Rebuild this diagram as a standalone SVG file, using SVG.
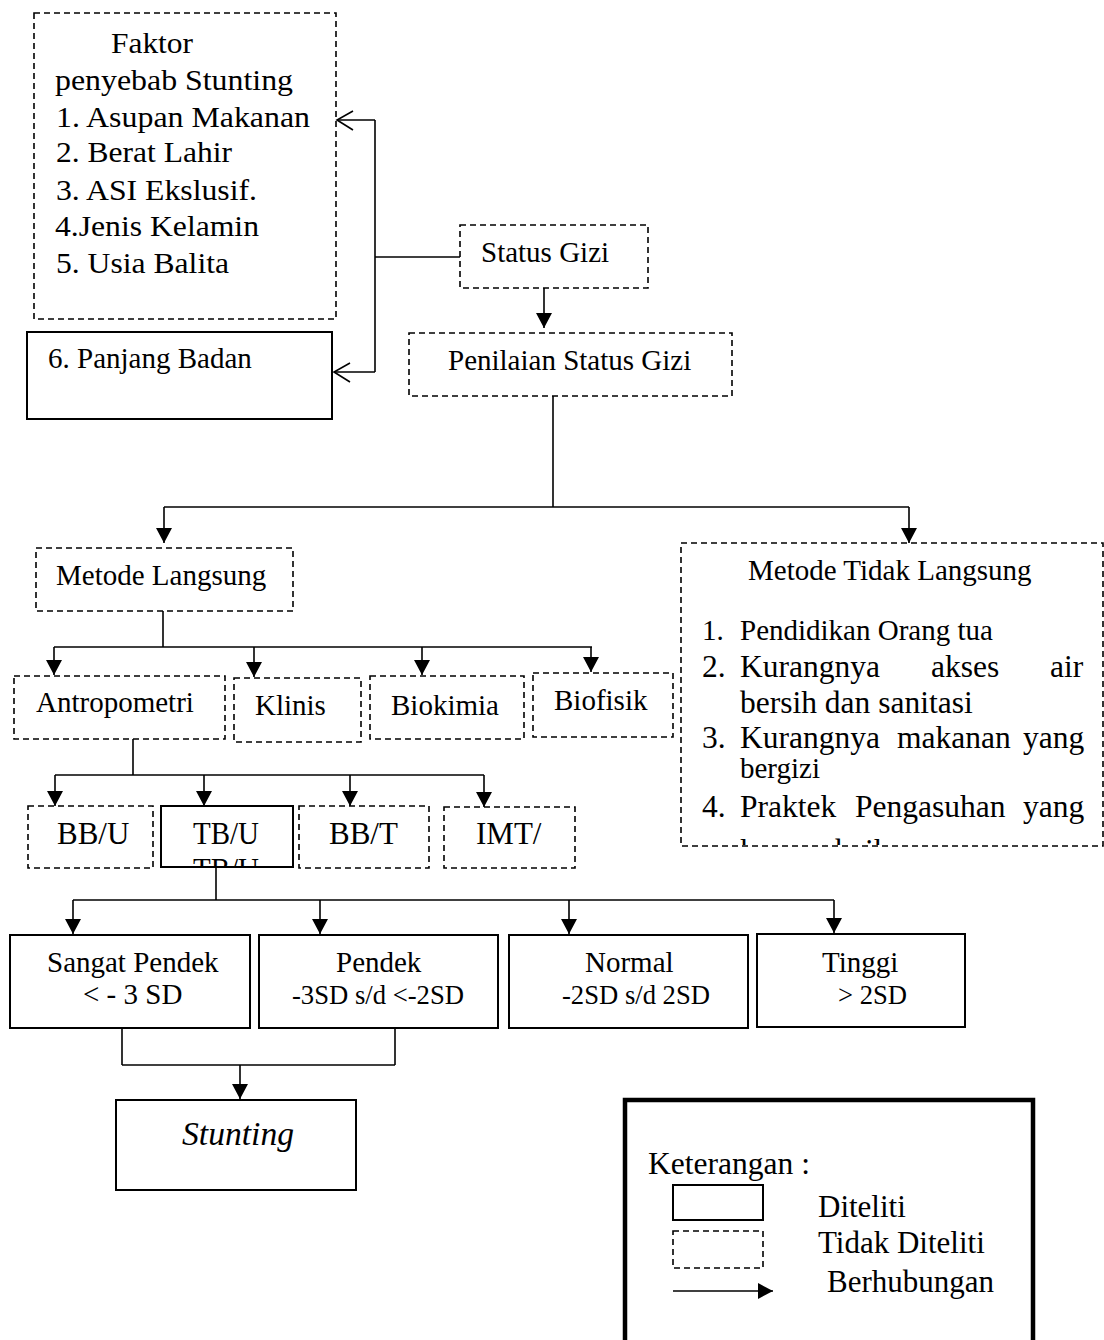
<svg xmlns="http://www.w3.org/2000/svg" width="1104" height="1340" viewBox="0 0 1104 1340">
<style>
  text { font-family: "Liberation Serif", "Times New Roman", serif; fill: #000; }
  .t29 { font-size: 29px; }
  .t30 { font-size: 30px; }
  .t31 { font-size: 31px; }
  .t32 { font-size: 31.5px; }
  .t26 { font-size: 26.5px; }
  .dash { fill: #fff; stroke: #000; stroke-width: 1.6; stroke-dasharray: 6 4; }
  .solid { fill: #fff; stroke: #000; stroke-width: 2; }
  .conn { fill: none; stroke: #000; stroke-width: 1.6; }
</style>
<defs>
  <marker id="arr" markerUnits="userSpaceOnUse" markerWidth="15" markerHeight="16" refX="15" refY="8" orient="auto" viewBox="0 0 15 16">
    <path d="M0,0 L15,8 L0,16 Z" fill="#000"/>
  </marker>
  <clipPath id="clipTB"><rect x="162" y="807" width="130" height="59"/></clipPath>
  <clipPath id="clipMTL"><rect x="682" y="544" width="420" height="301"/></clipPath>
</defs>
<rect width="1104" height="1340" fill="#fff"/>

<g id="faktor">
  <rect class="dash" x="34" y="13" width="302" height="306"/>
  <text class="t30" x="111" y="53" textLength="82" lengthAdjust="spacingAndGlyphs">Faktor</text>
  <text class="t30" x="55" y="90" textLength="238" lengthAdjust="spacingAndGlyphs">penyebab Stunting</text>
  <text class="t30" x="56" y="127" textLength="254" lengthAdjust="spacingAndGlyphs">1. Asupan Makanan</text>
  <text class="t30" x="56" y="162" textLength="176" lengthAdjust="spacingAndGlyphs">2. Berat Lahir</text>
  <text class="t30" x="56" y="200" textLength="201" lengthAdjust="spacingAndGlyphs">3. ASI Ekslusif.</text>
  <text class="t30" x="55" y="236" textLength="204" lengthAdjust="spacingAndGlyphs">4.Jenis Kelamin</text>
  <text class="t30" x="56" y="273" textLength="173" lengthAdjust="spacingAndGlyphs">5. Usia Balita</text>
</g>

<g id="panjang-badan">
  <rect class="solid" x="27" y="332" width="305" height="87"/>
  <text class="t29" x="48" y="368">6. Panjang Badan</text>
</g>

<g id="status-gizi">
  <rect class="dash" x="460" y="225" width="188" height="63"/>
  <text class="t29" x="481" y="262">Status Gizi</text>
</g>

<g id="penilaian">
  <rect class="dash" x="409" y="333" width="323" height="63"/>
  <text class="t29" x="448" y="370">Penilaian Status Gizi</text>
</g>

<g id="metode-langsung">
  <rect class="dash" x="36" y="548" width="257" height="63"/>
  <text class="t29" x="56" y="585">Metode Langsung</text>
</g>

<g id="metode-tidak-langsung">
  <rect class="dash" x="681" y="543" width="422" height="303"/>
  <text class="t29" x="748" y="580">Metode Tidak Langsung</text>
  <text class="t29" x="702" y="640">1.</text>
  <text class="t29" x="740" y="640">Pendidikan Orang tua</text>
  <text class="t32" x="702" y="677">2.</text>
  <text class="t32" x="740" y="677">Kurangnya</text>
  <text class="t32" x="931" y="677">akses</text>
  <text class="t32" x="1050" y="677">air</text>
  <text class="t32" x="740" y="713">bersih dan sanitasi</text>
  <text class="t32" x="702" y="748">3.</text>
  <text class="t32" x="740" y="748">Kurangnya</text>
  <text class="t32" x="897" y="748">makanan</text>
  <text class="t32" x="1023" y="748">yang</text>
  <text class="t29" x="740" y="778">bergizi</text>
  <text class="t32" x="702" y="817">4.</text>
  <text class="t32" x="740" y="817">Praktek</text>
  <text class="t32" x="855" y="817">Pengasuhan</text>
  <text class="t32" x="1023" y="817">yang</text>
  <text class="t32" x="740" y="861" clip-path="url(#clipMTL)">kurang baik</text>
</g>

<g id="antropometri">
  <rect class="dash" x="14" y="676" width="211" height="63"/>
  <text class="t29" x="36" y="712">Antropometri</text>
</g>
<g id="klinis">
  <rect class="dash" x="234" y="678" width="127" height="64"/>
  <text class="t29" x="255" y="715">Klinis</text>
</g>
<g id="biokimia">
  <rect class="dash" x="370" y="676" width="154" height="63"/>
  <text class="t29" x="391" y="715">Biokimia</text>
</g>
<g id="biofisik">
  <rect class="dash" x="533" y="673" width="140" height="64"/>
  <text class="t29" x="554" y="710">Biofisik</text>
</g>

<g id="bbu">
  <rect class="dash" x="28" y="806" width="125" height="62"/>
  <text class="t31" x="57" y="844">BB/U</text>
</g>
<g id="tbu">
  <rect class="solid" x="161" y="806" width="132" height="61" stroke-width="2.4"/>
  <text class="t31" x="193" y="844" textLength="66" lengthAdjust="spacingAndGlyphs">TB/U</text>
  <text class="t31" x="193" y="880" textLength="66" lengthAdjust="spacingAndGlyphs" clip-path="url(#clipTB)">TB/U</text>
</g>
<g id="bbt">
  <rect class="dash" x="299" y="806" width="130" height="62"/>
  <text class="t31" x="329" y="844">BB/T</text>
</g>
<g id="imt">
  <rect class="dash" x="444" y="807" width="131" height="61"/>
  <text class="t31" x="476" y="844">IMT/</text>
</g>

<g id="sangat-pendek">
  <rect class="solid" x="10" y="935" width="240" height="93"/>
  <text class="t29" x="47" y="972">Sangat Pendek</text>
  <text class="t29" x="83" y="1004">&lt; - 3 SD</text>
</g>
<g id="pendek">
  <rect class="solid" x="259" y="935" width="239" height="93"/>
  <text class="t29" x="336" y="972">Pendek</text>
  <text class="t26" x="292" y="1004" textLength="172" lengthAdjust="spacingAndGlyphs">-3SD s/d &lt;-2SD</text>
</g>
<g id="normal">
  <rect class="solid" x="509" y="935" width="239" height="93"/>
  <text class="t29" x="585" y="972">Normal</text>
  <text class="t26" x="562" y="1004" textLength="148" lengthAdjust="spacingAndGlyphs">-2SD s/d 2SD</text>
</g>
<g id="tinggi">
  <rect class="solid" x="757" y="934" width="208" height="93"/>
  <text class="t29" x="822" y="972">Tinggi</text>
  <text class="t26" x="838" y="1004" textLength="69" lengthAdjust="spacingAndGlyphs">&gt; 2SD</text>
</g>

<g id="stunting">
  <rect class="solid" x="116" y="1100" width="240" height="90"/>
  <text x="182" y="1145" font-size="34" font-style="italic" textLength="112" lengthAdjust="spacingAndGlyphs">Stunting</text>
</g>

<g id="legend">
  <rect x="625" y="1100" width="408" height="260" fill="#fff" stroke="#000" stroke-width="4.5"/>
  <text class="t31" x="648" y="1174" textLength="162" lengthAdjust="spacingAndGlyphs">Keterangan :</text>
  <rect class="solid" x="673" y="1185" width="90" height="35"/>
  <text class="t31" x="818" y="1217">Diteliti</text>
  <rect class="dash" x="673" y="1231" width="90" height="37"/>
  <text class="t31" x="818" y="1253">Tidak Diteliti</text>
  <path class="conn" d="M673,1291 L773,1291" marker-end="url(#arr)"/>
  <text class="t31" x="827" y="1292">Berhubungan</text>
</g>

<g id="connectors">
  <path class="conn" d="M460,257 L375,257"/>
  <path class="conn" d="M375,120 L375,372"/>
  <path class="conn" d="M375,120 L337,120"/>
  <path class="conn" d="M375,372 L334,372"/>
  <path class="conn" d="M353,111 L337,120 L353,130"/>
  <path class="conn" d="M350,363 L334,372 L350,382"/>

  <path class="conn" d="M544,288 L544,328" marker-end="url(#arr)"/>

  <path class="conn" d="M553,396 L553,507"/>
  <path class="conn" d="M164,507 L909,507"/>
  <path class="conn" d="M164,507 L164,543" marker-end="url(#arr)"/>
  <path class="conn" d="M909,507 L909,543" marker-end="url(#arr)"/>

  <path class="conn" d="M163,611 L163,647"/>
  <path class="conn" d="M54,647 L592,647"/>
  <path class="conn" d="M54,647 L54,675" marker-end="url(#arr)"/>
  <path class="conn" d="M254,647 L254,677" marker-end="url(#arr)"/>
  <path class="conn" d="M422,647 L422,675" marker-end="url(#arr)"/>
  <path class="conn" d="M591,647 L591,672" marker-end="url(#arr)"/>

  <path class="conn" d="M133,739 L133,775"/>
  <path class="conn" d="M55,775 L484,775"/>
  <path class="conn" d="M55,775 L55,806" marker-end="url(#arr)"/>
  <path class="conn" d="M204,775 L204,806" marker-end="url(#arr)"/>
  <path class="conn" d="M350,775 L350,806" marker-end="url(#arr)"/>
  <path class="conn" d="M484,775 L484,807" marker-end="url(#arr)"/>

  <path class="conn" d="M216,867 L216,900"/>
  <path class="conn" d="M73,900 L834,900"/>
  <path class="conn" d="M73,900 L73,934" marker-end="url(#arr)"/>
  <path class="conn" d="M320,900 L320,934" marker-end="url(#arr)"/>
  <path class="conn" d="M569,900 L569,934" marker-end="url(#arr)"/>
  <path class="conn" d="M834,900 L834,933" marker-end="url(#arr)"/>

  <path class="conn" d="M122,1029 L122,1065"/>
  <path class="conn" d="M395,1029 L395,1065"/>
  <path class="conn" d="M122,1065 L395,1065"/>
  <path class="conn" d="M240,1065 L240,1099" marker-end="url(#arr)"/>
</g>
</svg>
